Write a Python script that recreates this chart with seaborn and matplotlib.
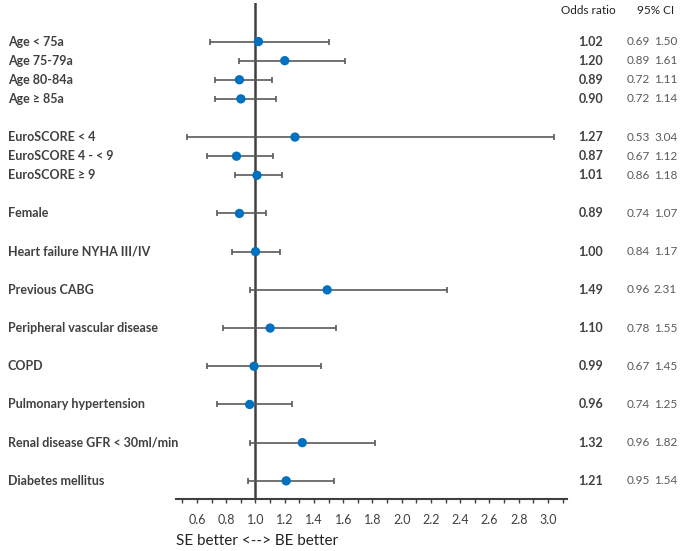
import numpy as np
import pandas as pd
import matplotlib.pyplot as plt
import matplotlib.transforms as mtransforms
import seaborn as sns

# data
labels = [
    "Age < 75a", "Age 75-79a", "Age 80-84a", "Age ≥ 85a",
    "EuroSCORE < 4", "EuroSCORE 4 - < 9", "EuroSCORE ≥ 9",
    "Female", "Heart failure NYHA III/IV", "Previous CABG",
    "Peripheral vascular disease", "COPD", "Pulmonary hypertension",
    "Renal disease GFR < 30ml/min", "Diabetes mellitus",
]
odds_ratio = [1.02, 1.20, 0.89, 0.90, 1.27, 0.87, 1.01, 0.89, 1.00, 1.49, 1.10, 0.99, 0.96, 1.32, 1.21]
ci_low = [0.69, 0.89, 0.72, 0.72, 0.53, 0.67, 0.86, 0.74, 0.84, 0.96, 0.78, 0.67, 0.74, 0.96, 0.95]
ci_high = [1.50, 1.61, 1.11, 1.14, 3.04, 1.12, 1.18, 1.07, 1.17, 2.31, 1.55, 1.45, 1.25, 1.82, 1.54]
group_sizes = [4, 3, 1, 1, 1, 1, 1, 1, 1, 1]

tick_values = [0.6, 0.8, 1.0, 1.2, 1.4, 1.6, 1.8, 2.0, 2.2, 2.4, 2.6, 2.8, 3.0]

# row positions: one step inside a group, two steps between groups
rows = []
pos = 0
for g, size in enumerate(group_sizes):
    if g > 0:
        pos += 2
    for i in range(size):
        rows.append(pos + i)
    pos += size - 1

df = pd.DataFrame({"label": labels, "OR": odds_ratio, "lo": ci_low, "hi": ci_high, "row": rows})

sns.set_style("white")
plt.rcParams['font.family'] = ['Lato', 'DejaVu Sans']

W, H = 685, 551
fig = plt.figure(figsize=(W / 100, H / 100), dpi=100)
ax = fig.add_axes([176 / W, (H - 499) / H, (567 - 176) / W, (499 - 3) / H])

dark = "#404040"
grey = "#5a5a5a"
blue = "#0070c0"

ax.axvline(1.0, color=dark, lw=1.8, zorder=1)
ax.errorbar(df["OR"], df["row"], xerr=[df["OR"] - df["lo"], df["hi"] - df["OR"]],
            fmt="none", ecolor=grey, elinewidth=1.2, capsize=2.4, capthick=1.2, zorder=2)
sns.scatterplot(data=df, x="OR", y="row", color=blue, s=45, edgecolor="none", zorder=3, ax=ax)

ax.set_xlim(0.4564, 3.13)
ax.set_ylim(23.95, -2.02)
ax.set_xlabel("")
ax.set_ylabel("")
ax.set_yticks([])
ax.set_xticks(tick_values)
ax.set_xticklabels([f"{v:.1f}" for v in tick_values], fontsize=9, color=dark)
ax.set_xticks(np.arange(0.5, 3.15, 0.2), minor=True)
ax.tick_params(axis="x", which="both", direction="out", length=3, width=1, color=dark,
               bottom=True, pad=8)
for side in ["left", "top", "right"]:
    ax.spines[side].set_visible(False)
ax.spines["bottom"].set_color(dark)
ax.spines["bottom"].set_linewidth(1.5)

trans = mtransforms.blended_transform_factory(fig.transFigure, ax.transData)
for _, r in df.iterrows():
    ax.text(8 / W, r["row"], r["label"], transform=trans, ha="left", va="center",
            fontsize=9, fontweight="bold", color=dark, clip_on=False)
    ax.text(591 / W, r["row"], f"{r['OR']:.2f}", transform=trans, ha="center", va="center",
            fontsize=9, fontweight="bold", color=dark, clip_on=False)
    ax.text(650 / W, r["row"], f"{r['lo']:.2f}", transform=trans, ha="right", va="center",
            fontsize=8.5, color=grey, clip_on=False)
    ax.text(654 / W, r["row"], f"{r['hi']:.2f}", transform=trans, ha="left", va="center",
            fontsize=8.5, color=grey, clip_on=False)

ax.text(588 / W, -1.65, "Odds ratio", transform=trans, ha="center", va="center",
        fontsize=8.5, color="#222222", clip_on=False)
ax.text(656 / W, -1.65, "95% CI", transform=trans, ha="center", va="center",
        fontsize=8.5, color="#222222", clip_on=False)

fig.text(176 / W, (H - 541) / H, "SE better <--> BE better", ha="left", va="center",
         fontsize=11, color="#222222")

fig.savefig("out.png", dpi=100)
